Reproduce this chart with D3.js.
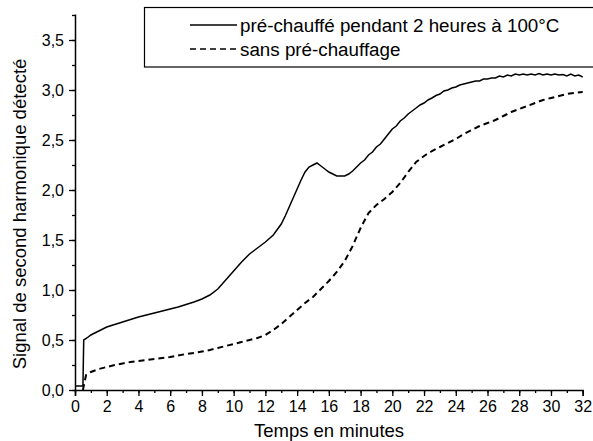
<!DOCTYPE html>
<html><head><meta charset="utf-8">
<script src="https://cdn.jsdelivr.net/npm/d3@7"></script>
<style>body{margin:0;background:#fff}svg{display:block;font-family:Arial,"Liberation Sans",sans-serif}</style>
</head><body>
<svg id="c" width="593" height="441"></svg>
<script>
// Data (time in minutes, signal)
const solidT = [0,0.5,0.55,0.75,1,1.5,2,2.5,3,3.5,4,4.5,5,5.5,6,6.5,7,7.5,8,8.5,9,9.5,10,10.5,11,11.5,12,12.5,13,13.25,13.5,13.75,
  14,14.25,14.5,14.75,15,15.25,15.5,15.75,16,16.25,16.5,16.75,17,17.25,17.5,17.75,18,18.25,18.5,18.75,19,19.25,19.5,19.75,
  20,20.25,20.5,20.75,21,21.25,21.5,21.75,22,22.25,22.5,22.75,23,23.25,23.5,23.75,24,24.25,24.5,24.75,25,25.25,25.5,25.75,
  26,26.25,26.5,26.75,27,27.25,27.5,27.75,28,28.25,28.5,28.75,29,29.25,29.5,29.75,30,30.25,30.5,30.75,31,31.25,31.5,31.75,32];
const solidV = [0.04,0.04,0.50,0.52,0.55,0.59,0.63,0.655,0.68,0.705,0.73,0.75,0.77,0.79,0.81,0.83,0.855,0.88,0.91,0.95,1.01,1.10,1.19,1.28,1.36,1.42,1.48,1.55,1.66,1.74,1.83,1.92,
  2.01,2.10,2.18,2.23,2.25,2.27,2.24,2.21,2.18,2.16,2.14,2.14,2.14,2.16,2.19,2.23,2.27,2.30,2.35,2.38,2.43,2.46,2.51,2.56,
  2.61,2.64,2.69,2.72,2.76,2.79,2.82,2.85,2.87,2.90,2.92,2.945,2.96,2.99,3.00,3.02,3.03,3.05,3.06,3.07,3.08,3.09,3.09,3.11,
  3.11,3.12,3.12,3.14,3.13,3.15,3.14,3.16,3.15,3.16,3.15,3.16,3.15,3.165,3.15,3.16,3.15,3.16,3.15,3.155,3.14,3.16,3.14,3.15,3.13,3.14,3.13];
const dashT = [0.5,0.6,0.7,1,1.5,2,2.5,3,3.5,4,4.5,5,5.5,6,6.5,7,7.5,8,8.5,9,9.5,10,10.5,11,11.5,12,12.5,13,13.5,14,14.5,15,15.5,16,16.5,17,17.5,18,18.5,19,19.5,20,
  20.5,21,21.5,22,22.5,23,23.5,24,24.5,25,25.5,26,26.5,27,27.5,28,28.5,29,29.5,30,30.5,31,31.5,32];
const dashV = [0.0,0.08,0.15,0.18,0.21,0.23,0.25,0.265,0.28,0.29,0.30,0.31,0.32,0.33,0.345,0.36,0.37,0.385,0.40,0.42,0.44,0.46,0.48,0.50,0.52,0.55,0.60,0.66,0.73,0.80,0.87,0.93,1.01,1.09,1.18,1.29,1.44,1.62,1.77,1.85,1.91,1.98,
  2.07,2.18,2.28,2.34,2.39,2.43,2.47,2.51,2.56,2.60,2.64,2.67,2.70,2.74,2.78,2.81,2.84,2.87,2.90,2.92,2.94,2.96,2.97,2.98];
const xTicks = [0,2,4,6,8,10,12,14,16,18,20,22,24,26,28,30,32];
const yTicks = [0,0.5,1,1.5,2,2.5,3,3.5];
const legendLabels = ["pré-chauffé pendant 2 heures à 100°C","sans pré-chauffage"];
const xTitle = "Temps en minutes";
const yTitle = "Signal de second harmonique détecté";

const svg = d3.select("#c");
const x = d3.scaleLinear().domain([0,32]).range([75,582.7]);
const y = d3.scaleLinear().domain([0,3.76]).range([390,14]);
const fmt = d => d3.format(".1f")(d).replace(".",",");

// X axis
const xa = svg.append("g").attr("transform","translate(0,390)");
xa.call(d3.axisBottom(x).tickValues(d3.range(0,33,1)).tickSize(3).tickFormat(""));
xa.call(g=>g.selectAll(".tick line").attr("stroke-width",1.3));
const xa2 = svg.append("g").attr("transform","translate(0,390)");
xa2.call(d3.axisBottom(x).tickValues(xTicks).tickSize(6).tickFormat(d=>d).tickPadding(5));
xa2.select(".domain").attr("stroke-width",1.5);
xa2.selectAll(".tick line").attr("stroke-width",1.3);
xa2.selectAll("text").attr("font-size",16).attr("font-family","Arial, 'Liberation Sans', sans-serif").attr("fill","#000");
xa.select(".domain").remove();

// Y axis
const ya = svg.append("g").attr("transform","translate(75,0)");
ya.call(d3.axisLeft(y).tickValues(d3.range(0,3.76,0.25)).tickSize(3).tickFormat(""));
ya.select(".domain").remove();
ya.selectAll(".tick line").attr("stroke-width",1.3);
const ya2 = svg.append("g").attr("transform","translate(75,0)");
ya2.call(d3.axisLeft(y).tickValues(yTicks).tickSize(6).tickFormat(fmt).tickPadding(5).tickSizeOuter(0));
ya2.select(".domain").attr("stroke-width",1.5);
ya2.selectAll(".tick line").attr("stroke-width",1.3);
ya2.selectAll("text").attr("font-size",16).attr("font-family","Arial, 'Liberation Sans', sans-serif").attr("fill","#000");
svg.selectAll(".domain").attr("stroke","#000");

// Lines
const line = d3.line().x(d=>x(d[0])).y(d=>y(d[1]));
svg.append("path").datum(solidT.map((t,i)=>[t,solidV[i]]))
  .attr("d",line).attr("fill","none").attr("stroke","#000").attr("stroke-width",1.5);
svg.append("path").datum(dashT.map((t,i)=>[t,dashV[i]]))
  .attr("d",line).attr("fill","none").attr("stroke","#000").attr("stroke-width",2).attr("stroke-dasharray","6,4");

// Legend
const lg = svg.append("g");
lg.append("rect").attr("x",144.5).attr("y",7.5).attr("width",470).attr("height",59.5)
  .attr("fill","#fff").attr("stroke","#000").attr("stroke-width",1.2);
lg.append("line").attr("x1",190).attr("x2",237).attr("y1",25).attr("y2",25).attr("stroke","#000").attr("stroke-width",1.5);
lg.append("line").attr("x1",190).attr("x2",237).attr("y1",49).attr("y2",49).attr("stroke","#000").attr("stroke-width",1.5).attr("stroke-dasharray","6,4");
lg.selectAll("text.l").data(legendLabels).enter().append("text")
  .attr("x",240).attr("y",(d,i)=>25+i*24).attr("dy","0.35em").attr("font-size",18.8).text(d=>d);

// Titles
svg.append("text").attr("x",329).attr("y",437).attr("text-anchor","middle").attr("font-size",18.5).text(xTitle);
svg.append("text").attr("transform","translate(26,214) rotate(-90)").attr("text-anchor","middle").attr("font-size",18.5).text(yTitle);
</script>
</body></html>
